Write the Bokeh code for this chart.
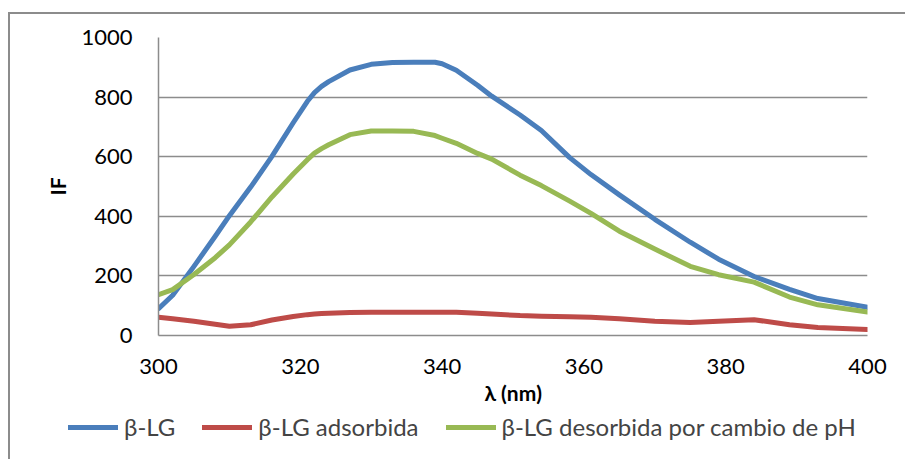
from bokeh.plotting import figure
from bokeh.models import Legend, LegendItem, Range1d, FixedTicker
from bokeh.layouts import column
from bokeh.embed import file_html
from bokeh.resources import INLINE

wavelength = [300, 302, 305, 308, 310, 313, 316, 319, 321, 322, 323, 324, 327, 330, 333, 336, 339,
              340, 342, 345, 347, 351, 354, 358, 361, 365, 370, 375, 379, 384, 389, 393, 400]
blg = [90, 135, 232, 333, 402, 498, 601, 714, 786, 815, 836, 852, 891, 910, 916, 917, 917,
       912, 890, 840, 803, 740, 688, 597, 540, 472, 390, 313, 256, 198, 155, 124, 95]
blg_adsorbida = [61, 56, 48, 38, 31, 36, 52, 64, 70, 72, 74, 75, 77, 78, 78, 78, 78,
                 78, 78, 75, 72, 67, 65, 63, 61, 56, 48, 44, 48, 53, 36, 27, 20]
blg_desorbida = [137, 154, 205, 261, 304, 381, 465, 542, 590, 612, 627, 640, 674, 686, 686, 685, 671,
                 662, 645, 611, 592, 538, 503, 451, 410, 350, 290, 232, 204, 179, 129, 103, 79]

x_ticks = [300, 320, 340, 360, 380, 400]
y_ticks = [0, 200, 400, 600, 800, 1000]
series_names = ["β-LG", "β-LG adsorbida", "β-LG desorbida por cambio de pH"]
colors = ["#4A7EBB", "#BE4B48", "#98B954"]

FONT = "Lato"
GRAY = "#8C8C8C"
LW = 5

p = figure(width=897, height=395, output_backend="svg", toolbar_location=None,
           x_range=Range1d(300, 400), y_range=Range1d(0, 1000),
           min_border_left=148, min_border_right=40, min_border_top=23, min_border_bottom=74)
p.outline_line_color = None
p.background_fill_color = "white"
p.border_fill_color = "white"

for ys, c in zip([blg, blg_adsorbida, blg_desorbida], colors):
    p.line(wavelength, ys, line_color=c, line_width=LW, line_join="round", line_cap="round")

p.xgrid.grid_line_color = None
p.ygrid.grid_line_color = GRAY
p.ygrid.grid_line_width = 1.5
p.yaxis.ticker = FixedTicker(ticks=y_ticks)
p.xaxis.ticker = FixedTicker(ticks=x_ticks)

for ax in [p.xaxis[0], p.yaxis[0]]:
    ax.axis_line_color = GRAY
    ax.axis_line_width = 1.5
    ax.major_tick_line_color = None
    ax.minor_tick_line_color = None
    ax.major_label_text_font = FONT
    ax.major_label_text_font_size = "22px"
    ax.major_label_text_color = "black"
    ax.axis_label_text_font = FONT
    ax.axis_label_text_font_size = "21px"
    ax.axis_label_text_font_style = "bold"
    ax.axis_label_text_color = "black"

p.xaxis.axis_label = "λ (nm)"
p.yaxis.axis_label = "IF"
p.xaxis.major_label_standoff = 17
p.yaxis.major_label_standoff = 20
p.xaxis.axis_label_standoff = 3
p.yaxis.axis_label_standoff = 8

# legend strip below the chart (proxy lines hold off-range data so only the legend shows)
pl = figure(width=897, height=50, output_backend="svg", toolbar_location=None,
            x_range=Range1d(0, 1), y_range=Range1d(0, 1),
            min_border_left=0, min_border_right=0, min_border_top=0, min_border_bottom=0)
pl.axis.visible = False
pl.grid.visible = False
pl.outline_line_color = None
pl.background_fill_color = "white"
pl.border_fill_color = "white"
proxies = [pl.line(x=[5, 6], y=[5, 6], line_color=c, line_width=LW, line_cap="round") for c in colors]

for fig in (p, pl):
    if "frame_align" in fig.properties():
        fig.frame_align = False

legend = Legend(items=[LegendItem(label=n, renderers=[r]) for n, r in zip(series_names, proxies)],
                orientation="horizontal", location=(58, 18))
legend.label_text_font = FONT
legend.label_text_font_size = "24px"
legend.glyph_width = 50
legend.spacing = 27
legend.label_standoff = 6
legend.border_line_color = None
legend.background_fill_alpha = 0
legend.padding = 4
legend.margin = 0
pl.add_layout(legend, "center")

layout = column(p, pl, spacing=0)
layout.margin = (12, 0, 0, 8)
layout.styles = {"border-left": "2px solid #8C8C8C", "border-top": "2px solid #8C8C8C"}

open("out.html", "w").write(file_html(layout, INLINE))
